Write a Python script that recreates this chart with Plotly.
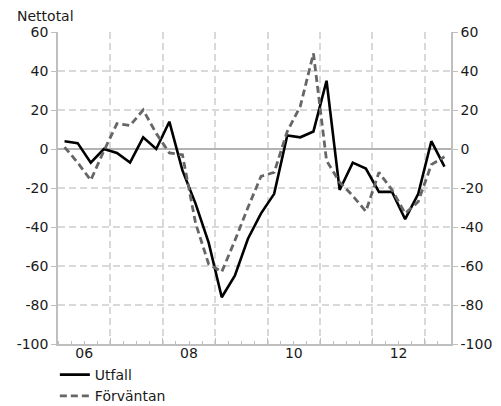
import plotly.graph_objects as go

# Quarterly periods 2006Q1 .. 2013Q2
quarters = [f"{y}Q{q}" for y in range(2006, 2014) for q in range(1, 5)][:30]

utfall = [4, 3, -7, 0, -2, -7, 6, 0, 14, -11, -28, -48, -76, -65, -46, -33,
          -23, 7, 6, 9, 35, -21, -7, -10, -22, -22, -36, -23, 4, -9]
forvantan = [1, -7, -16, -1, 13, 12, 20, 8, -2, -3, -38, -59, -63, -47, -30, -14,
             -12, 9, 22, 49, -6, -17, -24, -32, -12, -21, -33, -27, -8, -4]

year_labels = ["06", "08", "10", "12"]
label_years = [2006, 2008, 2010, 2012]
y_ticks = [-100, -80, -60, -40, -20, 0, 20, 40, 60]
y_ticktext = [str(v) for v in y_ticks]


def to_decimal(q):
    y, n = q.split("Q")
    return int(y) + (int(n) - 0.5) / 4


x = [to_decimal(q) for q in quarters]

FONT = "DejaVu Sans"
GRID = "#d9d9d9"
AXIS = "#bfbfbf"

fig = go.Figure()
fig.add_trace(go.Scatter(x=x, y=utfall, mode="lines", name="Utfall",
                         line=dict(color="#000000", width=2.6)))
fig.add_trace(go.Scatter(x=x, y=forvantan, mode="lines", name="Förväntan",
                         line=dict(color="#666666", width=2.8, dash="7px,4px")))
# helper traces to activate the secondary axes
fig.add_trace(go.Scatter(x=[None], y=[None], xaxis="x2", yaxis="y2",
                         showlegend=False, hoverinfo="skip"))

year_bounds = list(range(2006, 2014))
quarter_bounds = [y + k / 4 for y in range(2006, 2014) for k in range(4)] + [2013.5]

fig.update_layout(
    width=493, height=398,
    margin=dict(l=50, r=50, t=24, b=62, autoexpand=False),
    paper_bgcolor="white", plot_bgcolor="white",
    font=dict(family=FONT, size=14, color="#1a1a1a"),
    showlegend=True,
    legend=dict(x=-0.008, y=-0.048, xanchor="left", yanchor="top",
                font=dict(size=14), tracegroupgap=0, itemwidth=30,
                bgcolor="rgba(0,0,0,0)"),
    xaxis=dict(
        range=[2006, 2013.5],
        tickvals=[y + 0.5 for y in label_years], ticktext=year_labels,
        ticks="", showgrid=False, zeroline=False, ticklabelstandoff=-5,
        showline=True, linecolor=AXIS, linewidth=1.5,
        minor=dict(tickvals=quarter_bounds, ticks="inside", ticklen=3,
                   tickcolor=AXIS, showgrid=False),
    ),
    xaxis2=dict(
        range=[2006, 2013.5], overlaying="x", matches="x", anchor="y",
        tickvals=year_bounds, showticklabels=False,
        ticks="inside", ticklen=6, tickcolor=AXIS,
        showgrid=True, gridcolor=GRID, gridwidth=1.5, griddash="7px,4px",
        showline=False, zeroline=False,
    ),
    yaxis=dict(
        range=[-100, 60], tickvals=y_ticks, ticktext=y_ticktext,
        ticks="outside", ticklen=5, tickcolor=AXIS,
        showgrid=True, gridcolor=GRID, gridwidth=1.5, griddash="7px,4px",
        zeroline=True, zerolinecolor="#b3b3b3", zerolinewidth=1.5,
        showline=True, linecolor=AXIS, linewidth=1.5,
    ),
    yaxis2=dict(
        range=[-100, 60], overlaying="y", side="right", anchor="x",
        tickvals=y_ticks, ticktext=y_ticktext,
        ticks="outside", ticklen=5, tickcolor=AXIS,
        showgrid=False, zeroline=False,
        showline=True, linecolor=AXIS, linewidth=1.5,
    ),
    annotations=[dict(text="Nettotal", xref="paper", yref="paper",
                      x=-0.11, y=1.05, xanchor="left", yanchor="middle",
                      showarrow=False, font=dict(size=14))],
)

fig.write_html("out.html")
